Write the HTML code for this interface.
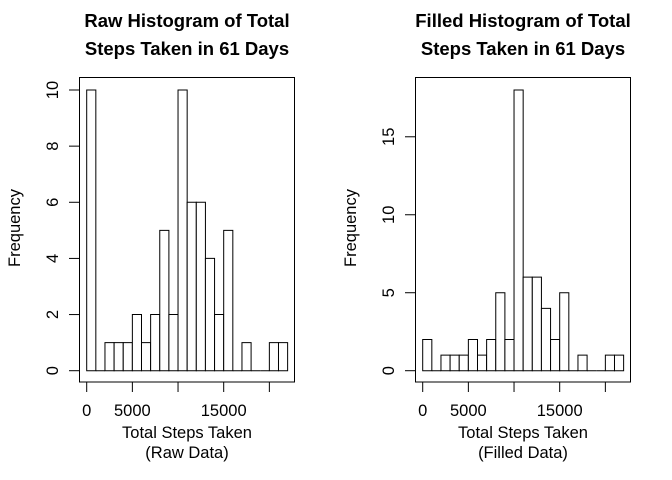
<!DOCTYPE html>
<html><head><meta charset="utf-8"><style>
body{margin:0;background:#fff}
svg{display:block;font-family:"Liberation Sans",Arial,sans-serif}
</style></head><body>
<svg id="c" width="672" height="480" viewBox="0 0 672 480"></svg>
<script>
const binStarts=[0,1000,2000,3000,4000,5000,6000,7000,8000,9000,10000,11000,12000,13000,14000,15000,16000,17000,18000,19000,20000,21000];
const rawCounts=[10,0,1,1,1,2,1,2,5,2,10,6,6,4,2,5,0,1,0,0,1,1];
const filledCounts=[2,0,1,1,1,2,1,2,5,2,18,6,6,4,2,5,0,1,0,0,1,1];
const xTicks=[0,5000,10000,15000,20000];
const xTickLabels=["0","5000","","15000",""];
const rawYTicks=[0,2,4,6,8,10];
const filledYTicks=[0,5,10,15];
const binWidth=1000;
const svg=document.getElementById('c');
const NS='http://www.w3.org/2000/svg';
function el(t,a,txt){const e=document.createElementNS(NS,t);for(const k in a)e.setAttribute(k,a[k]);if(txt!==undefined)e.textContent=txt;svg.appendChild(e);return e;}
function panel(off,counts,yTicks,yMax,titleA,titleB,sub,pfx){
  const x=v=>off+86.7+v*0.009133;
  const y0=370.7, top=90;
  const y=v=>y0-v*(y0-top)/yMax;
  let e=el('rect',{x:off+79.5,y:77.5,width:215,height:304.5,fill:'none',stroke:'#000','stroke-width':1});
  
  counts.forEach((c,i)=>{
    const x1=x(binStarts[i]),x2=x(binStarts[i]+binWidth),yt=y(c);
    const r=el('path',{d:`M${x1} ${y0}L${x1} ${yt}L${x2} ${yt}L${x2} ${y0}Z`,fill:'#fff',stroke:'#000','stroke-width':1});
    
  });
  xTicks.forEach((t,i)=>{
    const tk=el('line',{x1:x(t),x2:x(t),y1:382,y2:392,stroke:'#000'});
    
    if(xTickLabels[i]){const l=el('text',{x:x(t),y:416,'text-anchor':'middle','font-size':16.5},xTickLabels[i]);
      }
  });
  yTicks.forEach(t=>{
    const tk=el('line',{x1:off+69,x2:off+79.5,y1:y(t),y2:y(t),stroke:'#000'});
    
    const l=el('text',{x:off+58,y:y(t),'text-anchor':'middle','font-size':16.5,transform:`rotate(-90 ${off+58} ${y(t)})`},String(t));
    
  });
  e=el('text',{x:off+20,y:228,'text-anchor':'middle','font-size':16.5,transform:`rotate(-90 ${off+20} 228)`},'Frequency');
  
  e=el('text',{x:off+187,y:438,'text-anchor':'middle','font-size':16.5},'Total Steps Taken');
  
  e=el('text',{x:off+187,y:458,'text-anchor':'middle','font-size':16.5},sub);
  
  e=el('text',{x:off+187,y:27,'text-anchor':'middle','font-size':18.5,'font-weight':'bold'},titleA);
  
  e=el('text',{x:off+187,y:55,'text-anchor':'middle','font-size':18.5,'font-weight':'bold'},titleB);
  
}
panel(0,rawCounts,rawYTicks,10,'Raw Histogram of Total','Steps Taken in 61 Days','(Raw Data)','raw');
panel(336,filledCounts,filledYTicks,18,'Filled Histogram of Total','Steps Taken in 61 Days','(Filled Data)','filled');
</script>
</body></html>
